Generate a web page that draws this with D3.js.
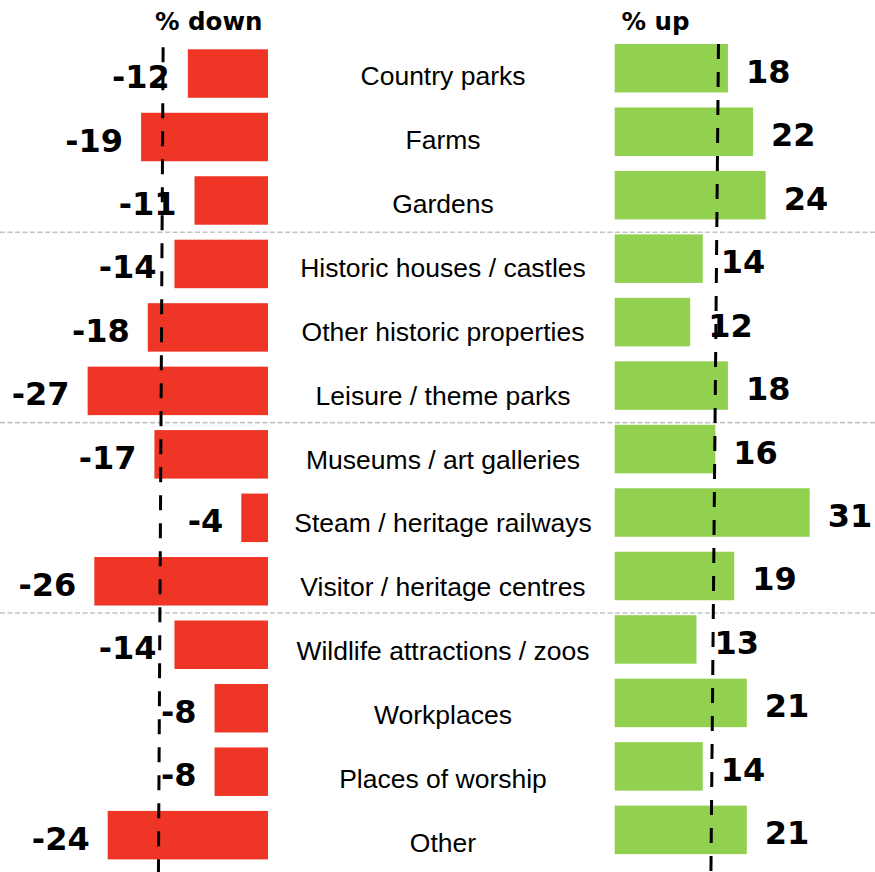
<!DOCTYPE html>
<html>
<head>
<meta charset="utf-8">
<script src="https://cdn.jsdelivr.net/npm/d3@7/dist/d3.min.js"></script>
<style>
  html, body { margin: 0; padding: 0; background: #ffffff; }
  svg { display: block; }
</style>
</head>
<body>
<div id="chart"></div>
<script>
// Attraction types and the share of each reporting a fall / rise in visits
const categories = [
  "Country parks", "Farms", "Gardens",
  "Historic houses / castles", "Other historic properties", "Leisure / theme parks",
  "Museums / art galleries", "Steam / heritage railways", "Visitor / heritage centres",
  "Wildlife attractions / zoos", "Workplaces", "Places of worship", "Other"
];
const downValues = [-12, -19, -11, -14, -18, -27, -17, -4, -26, -14, -8, -8, -24];
const upValues   = [18, 22, 24, 14, 12, 18, 16, 31, 19, 13, 21, 14, 21];

// Categories that open a new group (a divider is drawn above each)
const groupStarts = ["Historic houses / castles", "Museums / art galleries", "Wildlife attractions / zoos"];

// Reference levels drawn as dashed lines (value at top, value at bottom)
const downReference = [-15.7, -16.4];
const upReference   = [16.5, 15.3];

const headers = { down: "% down", up: "% up" };

const W = 875, H = 872;
const RED = "#EF3526", GREEN = "#92D050";

const svg = d3.select("#chart").append("svg")
  .attr("width", W).attr("height", H);

// Row layout for the bars
const y = d3.scaleBand()
  .domain(categories)
  .range([49.3, 859.4])
  .paddingInner(0.236)
  .paddingOuter(0);
const upShift = -5.3;   // right-hand bars sit slightly higher

// The middle column of names is spaced a touch wider than the bars
const yName = d3.scaleBand()
  .domain(categories)
  .range([49.3, 49.3 + 12 * 63.92 + 48.5])
  .paddingInner(0.241)
  .paddingOuter(0);

// Horizontal scales for each side
const xDown = d3.scaleLinear().domain([-30, 0]).range([268 - 30 * 6.68, 268]);
const xUp   = d3.scaleLinear().domain([0, 35]).range([614.7, 614.7 + 35 * 6.29]);

// Group dividers
const step = y.step();
const gap = step - y.bandwidth();
svg.append("g").selectAll("line")
  .data(groupStarts)
  .join("line")
  .attr("x1", 0).attr("x2", W)
  .attr("y1", d => y(d) - gap / 2)
  .attr("y2", d => y(d) - gap / 2)
  .attr("stroke", "#C3C3C3")
  .attr("stroke-width", 1.6)
  .attr("stroke-dasharray", "5,2.5");

// Down bars
svg.append("g").selectAll("rect")
  .data(categories)
  .join("rect")
  .attr("x", (d, i) => xDown(downValues[i]))
  .attr("y", d => y(d))
  .attr("width", (d, i) => xDown(0) - xDown(downValues[i]))
  .attr("height", y.bandwidth())
  .attr("fill", RED);

// Up bars
svg.append("g").selectAll("rect")
  .data(categories)
  .join("rect")
  .attr("x", xUp(0))
  .attr("y", d => y(d) + upShift)
  .attr("width", (d, i) => xUp(upValues[i]) - xUp(0))
  .attr("height", y.bandwidth())
  .attr("fill", GREEN);

// Category names in the middle column
svg.append("g").selectAll("text")
  .data(categories)
  .join("text")
  .attr("x", 443)
  .attr("y", d => yName(d) + yName.bandwidth() / 2 + 11.5)
  .attr("text-anchor", "middle")
  .attr("font-family", "'Liberation Sans', Arial, sans-serif")
  .attr("font-size", 26.5)
  .attr("fill", "#000")
  .text(d => d);

// Value labels
const valueFont = "'DejaVu Sans', Verdana, sans-serif";
svg.append("g").selectAll("text")
  .data(categories)
  .join("text")
  .attr("x", (d, i) => xDown(downValues[i]) - 18)
  .attr("y", d => y(d) + y.bandwidth() / 2 + 14.5)
  .attr("text-anchor", "end")
  .attr("font-family", valueFont)
  .attr("font-weight", "bold")
  .attr("font-size", 32)
  .attr("fill", "#000")
  .text((d, i) => downValues[i]);

svg.append("g").selectAll("text")
  .data(categories)
  .join("text")
  .attr("x", (d, i) => xUp(upValues[i]) + 18)
  .attr("y", d => y(d) + upShift + y.bandwidth() / 2 + 14.5)
  .attr("text-anchor", "start")
  .attr("font-family", valueFont)
  .attr("font-weight", "bold")
  .attr("font-size", 32)
  .attr("fill", "#000")
  .text((d, i) => upValues[i]);

// Column headers
svg.append("text")
  .attr("x", 155).attr("y", 29.5)
  .attr("font-family", valueFont).attr("font-weight", "bold")
  .attr("font-size", 24.5).attr("fill", "#000")
  .text(headers.down);
svg.append("text")
  .attr("x", 621.5).attr("y", 29.5)
  .attr("font-family", valueFont).attr("font-weight", "bold")
  .attr("font-size", 24.5).attr("fill", "#000")
  .text(headers.up);

// Dashed reference lines, drawn on top
const refTopDown = y(categories[0]);
const refTopUp = y(categories[0]) + upShift;
svg.append("line")
  .attr("x1", xDown(downReference[0])).attr("y1", refTopDown - 2)
  .attr("x2", xDown(downReference[1])).attr("y2", H)
  .attr("stroke", "#000").attr("stroke-width", 3)
  .attr("stroke-dasharray", "15,13");
svg.append("line")
  .attr("x1", xUp(upReference[0])).attr("y1", refTopUp)
  .attr("x2", xUp(upReference[1])).attr("y2", H)
  .attr("stroke", "#000").attr("stroke-width", 3)
  .attr("stroke-dasharray", "15,13");
</script>
</body>
</html>
